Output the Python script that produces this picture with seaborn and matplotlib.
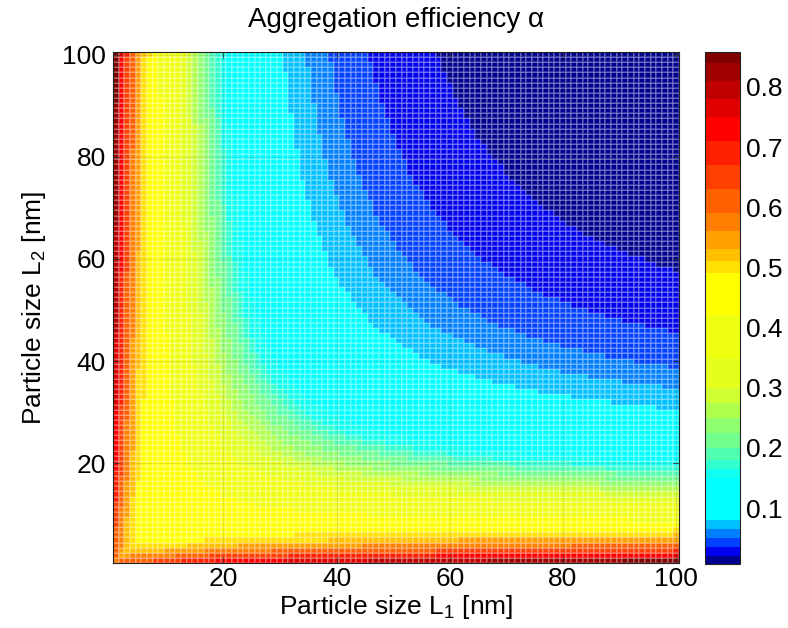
import numpy as np
import pandas as pd
import matplotlib
matplotlib.use("Agg")
import matplotlib.pyplot as plt
import seaborn as sns
from matplotlib.colors import ListedColormap, to_rgb

# ---------------- data ----------------
L1_nm = np.arange(1, 101)          # particle size L1 (x axis)
L2_nm = np.arange(1, 101)          # particle size L2 (y axis)

# bulk of the field: alpha read along curves of equal reduced size L1*L2/(L1+L2)
reduced_size_nm = [0.5, 4.0, 5.0, 5.7, 7.0, 9.0, 10.7, 11.5, 13.5, 15.0,
                   16.2, 19.0, 21.0, 23.5, 25.8, 28.0, 31.4, 36.7, 45.0, 50.0]
alpha_bulk = [0.48, 0.48, 0.47, 0.47, 0.45, 0.40, 0.36, 0.32, 0.25, 0.20,
              0.16, 0.12, 0.10, 0.08, 0.065, 0.05, 0.035, 0.02, 0.012, 0.009]

# thin strips along the edges: alpha read along rows of small size m (other size M)
edge_m = [1, 2, 3, 4, 5, 6, 7, 8]
edge_M = [[1, 5, 10, 20, 40, 60, 100],
          [2, 10, 20, 50, 100],
          [3, 10, 20, 50, 100],
          [4, 10, 30, 100],
          [5, 30, 100],
          [6, 100],
          [7, 100],
          [8, 100]]
edge_alpha = [[0.58, 0.61, 0.65, 0.72, 0.77, 0.80, 0.85],
              [0.55, 0.58, 0.64, 0.70, 0.75],
              [0.52, 0.53, 0.57, 0.62, 0.67],
              [0.49, 0.50, 0.54, 0.60],
              [0.47, 0.50, 0.55],
              [0.46, 0.51],
              [0.45, 0.49],
              [0.44, 0.47]]

x_ticks = [20, 40, 60, 80, 100]
y_ticks = [20, 40, 60, 80, 100]
cbar_ticks = [0.1, 0.2, 0.3, 0.4, 0.5, 0.6, 0.7, 0.8]

# colour bands of the colour bar (lower edge -> colour)
band_lower = [0.007, 0.020, 0.035, 0.050, 0.065, 0.080, 0.150, 0.165, 0.180, 0.200,
              0.225, 0.250, 0.275, 0.300, 0.350, 0.420, 0.490, 0.510, 0.530, 0.560,
              0.590, 0.630, 0.670, 0.710, 0.750, 0.780, 0.810, 0.840]
band_color = ["#00008f", "#0000ee", "#0040ff", "#0080ff", "#00c0ff", "#00ffff", "#10ffef", "#30ffcf", "#50ffaf", "#70ff8f",
              "#90ff6f", "#b0ff4f", "#cfff30", "#e4ff1c", "#f0ff10", "#ffff00", "#ffe000", "#ffc000", "#ffa000", "#ff8000",
              "#ff6000", "#ff4000", "#ff2000", "#ff0000", "#e00000", "#c00000", "#a00000", "#800000"]
vmin, vmax = 0.007, 0.858

# ---------------- build field ----------------
LL1, LL2 = np.meshgrid(L1_nm, L2_nm)
small = np.minimum(LL1, LL2)
large = np.maximum(LL1, LL2)
r = LL1 * LL2 / (LL1 + LL2)
alpha = np.interp(r, reduced_size_nm, alpha_bulk)
for m, Ms, As in zip(edge_m, edge_M, edge_alpha):
    sel = small == m
    e = np.interp(np.log(large[sel]), np.log(Ms), As)
    alpha[sel] = np.maximum(alpha[sel], e)
df = pd.DataFrame(alpha, index=L2_nm, columns=L1_nm)

vals = np.linspace(vmin, vmax, 2000)
idx = np.clip(np.searchsorted(band_lower, vals, side="right") - 1, 0, len(band_color) - 1)
cmap = ListedColormap([to_rgb(band_color[i]) for i in idx])

# ---------------- plot ----------------
sns.set_theme(style="white")
plt.rcParams["font.family"] = ["Liberation Sans", "DejaVu Sans"]
plt.rcParams["mathtext.fontset"] = "custom"
plt.rcParams["mathtext.rm"] = "Liberation Sans"
plt.rcParams["mathtext.it"] = "Liberation Sans:italic"
for k in ["text.color", "axes.labelcolor", "xtick.color", "ytick.color"]:
    plt.rcParams[k] = "black"

FS = 19
fig = plt.figure(figsize=(7.88, 6.28), dpi=100)
ax = fig.add_axes([113 / 788, (628 - 563) / 628, 566 / 788, 511 / 628])
cax = fig.add_axes([705 / 788, (628 - 564) / 628, 35 / 788, 512 / 628])

sns.heatmap(df, ax=ax, cmap=cmap, vmin=vmin, vmax=vmax, cbar=True, cbar_ax=cax,
            linewidths=0.35, linecolor=(1, 1, 1, 0.22),
            xticklabels=False, yticklabels=False)
ax.invert_yaxis()

ax.set_xticks([t - 0.5 for t in x_ticks])
ax.set_xticklabels([str(t) for t in x_ticks])
ax.set_yticks([t - 0.5 for t in y_ticks])
ax.set_yticklabels([str(t) for t in y_ticks], rotation=0)
ax.tick_params(direction="in", length=4, width=0.6, labelsize=FS, color="#333333",
               top=True, right=True, bottom=True, left=True, pad=5)
ax.tick_params(axis="x", pad=3)
for s in ax.spines.values():
    s.set_visible(True)
    s.set_color("#222222")
    s.set_linewidth(0.8)
ax.grid(True, linestyle=":", color="#555555", linewidth=0.6, alpha=0.45)
ax.set_axisbelow(False)

ax.set_xlabel("Particle size L$_1$ [nm]", fontsize=FS, labelpad=1)
ax.set_ylabel("Particle size L$_2$ [nm]", fontsize=FS, labelpad=10)
ax.set_title("Aggregation efficiency α", fontsize=20, pad=18)

cbar = ax.collections[0].colorbar
cbar.set_ticks(cbar_ticks)
cbar.set_ticklabels([f"{t:.1f}" for t in cbar_ticks])
cax.tick_params(direction="in", length=4, width=0.6, labelsize=FS, left=True, right=True,
                color="#333333", pad=4)
cbar.outline.set_visible(True)
cbar.outline.set_edgecolor("#222222")
cbar.outline.set_linewidth(0.8)

fig.savefig("out.png", dpi=100)
